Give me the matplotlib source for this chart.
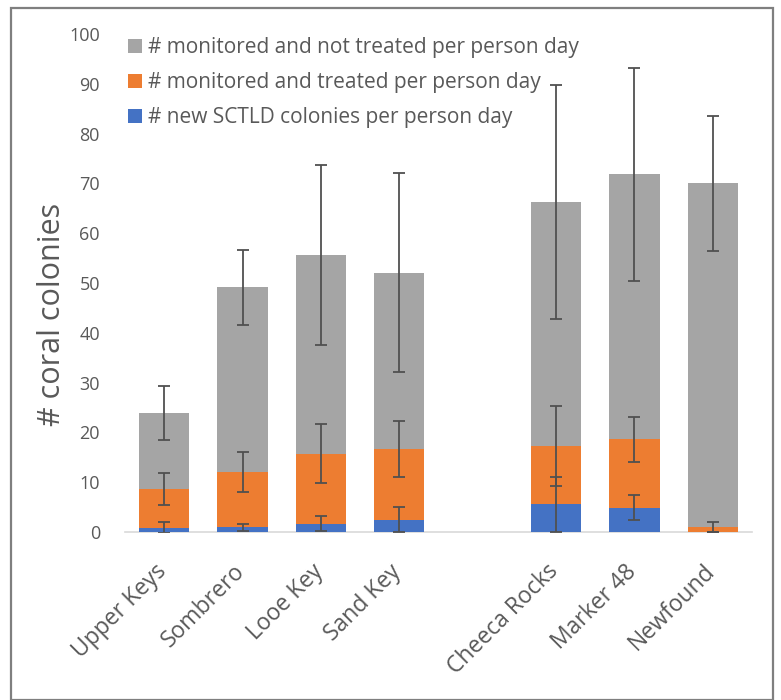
import matplotlib
matplotlib.use("Agg")
import matplotlib.pyplot as plt
import numpy as np
from matplotlib.patches import Rectangle

plt.rcParams['font.family'] = ['Open Sans', 'DejaVu Sans']

sites = ["Upper Keys", "Sombrero", "Looe Key", "Sand Key", "", "Cheeca Rocks", "Marker 48", "Newfound"]
new_sctld = [0.9, 1.0, 1.7, 2.5, 0, 5.6, 4.9, 0.0]
treated = [7.7, 11.1, 14.0, 14.2, 0, 11.7, 13.7, 1.0]
not_treated = [15.3, 37.0, 39.9, 35.4, 0, 49.0, 53.2, 69.0]
err_new = [1.2, 0.7, 1.5, 2.6, 0, 5.5, 2.5, 0.0]
err_treated = [3.2, 4.0, 5.9, 5.6, 0, 8.0, 4.5, 1.0]
err_not = [5.4, 7.5, 18.1, 20.0, 0, 23.5, 21.3, 13.6]
has_data = [True, True, True, True, False, True, True, True]

labels = ["# new SCTLD colonies per person day",
          "# monitored and treated per person day",
          "# monitored and not treated per person day"]
colors = ["#4472C4", "#ED7D31", "#A5A5A5"]

fig = plt.figure(figsize=(7.81, 7.0), dpi=100)
ax = fig.add_axes([125/781, 1-532/700, (752-125)/781, (532-34)/700])

x = np.arange(len(sites))
w = 0.64
b1 = np.array(new_sctld)
b2 = b1 + np.array(treated)
h_blue = ax.bar(x, new_sctld, w, color=colors[0], label=labels[0], zorder=2)
h_or = ax.bar(x, treated, w, bottom=b1, color=colors[1], label=labels[1], zorder=2)
h_gr = ax.bar(x, not_treated, w, bottom=b2, color=colors[2], label=labels[2], zorder=2)

b3 = b2 + np.array(not_treated)
mask = np.array(has_data)
ekw = dict(fmt='none', ecolor='#505050', elinewidth=1.3, capsize=4, capthick=1.3, zorder=3)
ax.errorbar(x[mask], b1[mask], yerr=np.array(err_new)[mask], **ekw)
ax.errorbar(x[mask], b2[mask], yerr=np.array(err_treated)[mask], **ekw)
ax.errorbar(x[mask], b3[mask], yerr=np.array(err_not)[mask], **ekw)

ax.set_xlim(-0.5, len(sites) - 0.5)
ax.set_ylim(0, 100)
ax.set_yticks(np.arange(0, 101, 10))
ax.set_xticks(x[mask])
ax.set_xticklabels([])
for xi, s, m in zip(x, sites, has_data):
    if m:
        ax.annotate(s, xy=(xi, 0), xycoords=('data', 'axes fraction'),
                    xytext=(-7.2, -20), textcoords='offset points',
                    rotation=45, ha='right', va='top', rotation_mode='anchor',
                    fontsize=16.5, color='#595959', annotation_clip=False)
ax.tick_params(axis='y', length=0, pad=18, labelsize=13, labelcolor='#595959')
ax.tick_params(axis='x', length=0)
for s in ['top', 'right', 'left']:
    ax.spines[s].set_visible(False)
ax.spines['bottom'].set_color('#D9D9D9')
ax.spines['bottom'].set_linewidth(1.2)
ax.spines['bottom'].set_zorder(1)

fig.text(52/781, 1-314/700, "# coral colonies", rotation=90, ha='center', va='center',
         fontsize=22, color='#595959')

leg = ax.legend(handles=[h_gr, h_or, h_blue], loc='upper left',
                bbox_to_anchor=(128/781, 1-37/700), bbox_transform=fig.transFigure,
                frameon=False, fontsize=15, labelcolor='#595959',
                handlelength=0.67, handleheight=0.67, handletextpad=0.3, labelspacing=0.67,
                borderaxespad=0.0, borderpad=0.0)

fig.patches.append(Rectangle((11/781, 0.0), (773-11)/781, 1-8/700, transform=fig.transFigure,
                             fill=False, edgecolor='#7F7F7F', linewidth=1.6))

fig.savefig("out.png", dpi=100)
